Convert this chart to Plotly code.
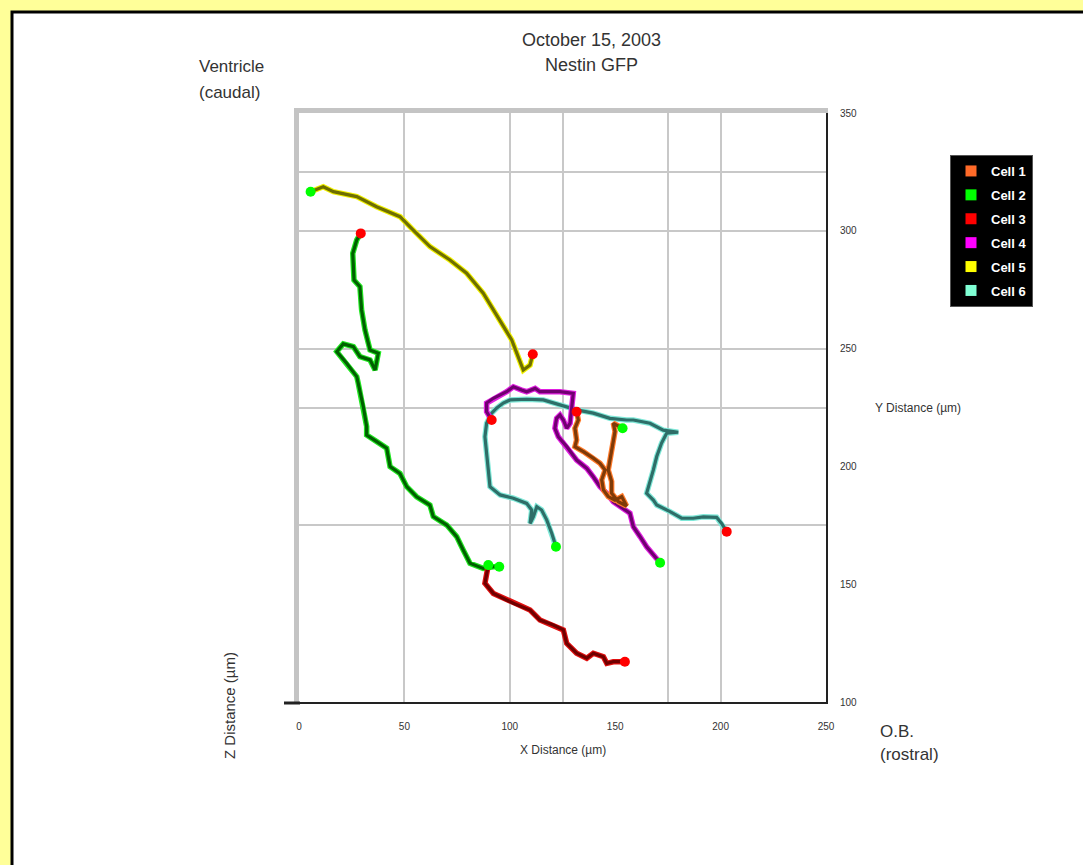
import plotly.graph_objects as go

# ---------------- data (µm) ----------------
cell_names = ["Cell 1", "Cell 2", "Cell 3", "Cell 4", "Cell 5", "Cell 6"]

cell1_x = [153.5, 149.1, 149.9, 149.1, 148.3, 147.5, 146.7, 148.3, 148.3, 151.5, 155.4, 153.1, 149.9,
           146.7, 144.4, 143.6, 145.2, 142.8, 139.6, 134.9, 130.9, 131.7, 130.9, 132.5, 131.7]
cell1_y = [216.2, 218.3, 214.8, 210.5, 206.3, 202.7, 198.5, 193.6, 188.6, 185.0, 183.2, 187.2, 185.7,
           187.2, 190.0, 194.3, 198.5, 201.3, 203.5, 206.3, 208.4, 211.2, 216.2, 219.7, 223.2]

cell2_x = [95.0, 92.2, 87.4, 81.1, 77.9, 74.8, 70.1, 63.7, 62.1, 55.8, 51.1, 47.9, 43.2, 41.6, 36.9,
           32.1, 32.1, 30.5, 28.1, 27.4, 22.6, 17.9, 21.0, 25.8, 28.9, 33.7, 36.1, 37.6, 33.7, 31.3,
           29.7, 28.9, 26.1, 25.5, 27.4, 29.3]
cell2_y = [157.4, 157.4, 156.7, 158.9, 164.5, 170.2, 175.1, 178.7, 183.6, 187.1, 191.4, 197.0, 199.9,
           207.7, 210.5, 213.3, 216.9, 225.4, 235.3, 238.1, 243.8, 248.7, 252.0, 250.8, 246.6, 245.2,
           240.9, 248.0, 249.4, 257.9, 266.4, 276.3, 279.1, 290.4, 296.1, 298.9]

cell3_x = [89.8, 88.2, 92.2, 101.7, 109.6, 114.3, 120.6, 125.4, 127.0, 131.7, 136.5, 139.6, 144.4,
           146.0, 149.1, 154.6]
cell3_y = [158.1, 150.4, 146.1, 141.9, 139.0, 134.8, 132.7, 130.6, 124.9, 120.7, 118.6, 120.7, 119.2,
           116.4, 117.1, 117.1]

cell4_x = [171.3, 168.1, 164.9, 161.8, 158.6, 157.0, 152.3, 149.1, 146.0, 142.8, 139.6, 136.5, 131.7,
           127.0, 123.0, 121.4, 122.2, 123.8, 125.4, 127.0, 128.6, 129.4, 130.1, 123.8, 114.3, 112.0,
           108.0, 105.6, 101.7, 98.5, 95.4, 92.2, 89.0, 89.0, 91.4]
cell4_y = [159.1, 162.4, 165.9, 170.2, 174.4, 180.1, 182.9, 185.0, 188.6, 191.4, 195.6, 199.2, 202.7,
           208.4, 212.6, 216.2, 220.4, 221.8, 219.7, 216.2, 218.3, 225.3, 231.0, 231.7, 231.7, 233.1,
           231.7, 232.4, 233.8, 231.7, 230.3, 228.9, 226.9, 223.2, 219.7]

cell5_x = [5.5, 11.5, 16.3, 27.4, 36.8, 47.9, 54.2, 62.1, 71.6, 79.5, 87.4, 95.4, 100.9, 106.4, 109.6, 110.9]
cell5_y = [316.6, 318.7, 316.6, 314.5, 310.2, 306.0, 300.3, 293.3, 287.6, 282.0, 273.5, 262.1, 253.7,
           240.9, 243.0, 247.6]

cell6_x = [121.9, 119.9, 117.5, 115.1, 112.8, 111.2, 109.6, 110.4, 108.0, 101.7, 95.4, 90.6, 89.8, 89.0,
           88.2, 89.0, 91.4, 93.7, 96.9, 100.1, 108.0, 115.9, 123.8, 131.7, 139.6, 147.5, 155.4, 158.6,
           166.5, 172.8, 179.9, 174.4, 172.0, 169.7, 168.1, 165.7, 164.9, 168.1, 169.7, 176.0, 181.5,
           187.0, 191.8, 198.1, 200.5, 202.9]
cell6_y = [165.9, 171.6, 177.3, 181.5, 182.9, 178.7, 175.8, 181.5, 184.3, 186.5, 187.9, 191.4, 198.5,
           205.6, 212.6, 218.3, 222.6, 224.7, 226.9, 228.2, 228.5, 228.2, 226.1, 224.0, 222.6, 220.4,
           219.7, 219.7, 218.3, 215.4, 214.5, 214.1, 209.9, 204.2, 198.5, 191.4, 188.6, 185.7, 183.6,
           180.8, 178.0, 178.0, 178.6, 178.4, 175.8, 172.3]

x_tick_vals = [0, 50, 100, 150, 200, 250]
y_tick_vals = [100, 150, 200, 250, 300, 350]
x_grid_vals = [50, 100, 125, 175, 200]
y_grid_vals = [175, 225, 250, 300, 325]

legend_colors = ["#FF6A28", "#00FF00", "#FF0000", "#FF00FF", "#FFFF00", "#80FFD4"]
light_colors = ["#FF7A2A", "#22E622", "#E01010", "#E020E0", "#F0F000", "#7FE8D8"]
dark_colors = ["#7E3A08", "#006000", "#700000", "#700070", "#6E6E00", "#2E6E68"]

tracks = {
    0: (cell1_x, cell1_y), 1: (cell2_x, cell2_y), 2: (cell3_x, cell3_y),
    3: (cell4_x, cell4_y), 4: (cell5_x, cell5_y), 5: (cell6_x, cell6_y),
}

# ---------------- layout helpers ----------------
W, H = 1083, 865
L, R, T, B = 299, 257, 113, 163
PW, PH = W - L - R, H - T - B


def px(xp):
    return (xp - L) / PW


def py(yp):
    return 1 - (yp - T) / PH


FONT = "Liberation Sans, Arial, sans-serif"
TXT = "#333333"

fig = go.Figure()

draw_order = [5, 3, 0, 1, 2, 4]
for i in draw_order:
    xs, ys = tracks[i]
    fig.add_trace(go.Scatter(x=xs, y=ys, mode="lines", showlegend=False, hoverinfo="skip",
                             line=dict(color=light_colors[i], width=5.5)))
    fig.add_trace(go.Scatter(x=xs, y=ys, mode="lines", showlegend=False, hoverinfo="skip",
                             line=dict(color=dark_colors[i], width=3.2)))

# start (green) and end (red) markers
for i in draw_order:
    xs, ys = tracks[i]
    fig.add_trace(go.Scatter(x=[xs[0]], y=[ys[0]], mode="markers", showlegend=False, hoverinfo="skip",
                             marker=dict(color="#00FF00", size=10, symbol="circle")))
    fig.add_trace(go.Scatter(x=[xs[-1]], y=[ys[-1]], mode="markers", showlegend=False, hoverinfo="skip",
                             marker=dict(color="#FF0000", size=10, symbol="circle")))

# legend entries
for i, name in enumerate(cell_names):
    fig.add_trace(go.Scatter(x=[None], y=[None], mode="markers", name=name, legendgroup=name,
                             marker=dict(color=legend_colors[i], size=11, symbol="square")))

# dummy traces to activate overlay axes
fig.add_trace(go.Scatter(x=[None], y=[None], xaxis="x2", yaxis="y", showlegend=False, hoverinfo="skip"))
fig.add_trace(go.Scatter(x=[None], y=[None], xaxis="x3", yaxis="y", showlegend=False, hoverinfo="skip"))
fig.add_trace(go.Scatter(x=[None], y=[None], xaxis="x", yaxis="y2", showlegend=False, hoverinfo="skip"))

fig.update_layout(
    width=W, height=H, autosize=False,
    margin=dict(l=L, r=R, t=T, b=B, pad=0),
    paper_bgcolor="#FFFF99",
    plot_bgcolor="white",
    font=dict(family=FONT, color=TXT),
    xaxis=dict(range=[0, 250], tickvals=x_grid_vals, showticklabels=False, ticks="",
               showgrid=True, gridcolor="#C8C8C8", gridwidth=2, zeroline=False,
               showline=True, linecolor="#222222", linewidth=2, side="bottom", fixedrange=True),
    yaxis=dict(range=[100, 350], tickvals=y_grid_vals, showticklabels=False, ticks="",
               showgrid=True, gridcolor="#C8C8C8", gridwidth=2, zeroline=False,
               showline=True, linecolor="#C4C4C4", linewidth=5, side="left", fixedrange=True),
    xaxis2=dict(range=[0, 250], overlaying="x", anchor="y", side="top", showgrid=False,
                zeroline=False, showticklabels=False, ticks="", showline=True,
                linecolor="#C4C4C4", linewidth=5, fixedrange=True),
    xaxis3=dict(range=[0, 250], overlaying="x", anchor="y", side="bottom", showgrid=False,
                zeroline=False, showline=False, ticks="", tickvals=x_tick_vals,
                ticktext=[str(v) for v in x_tick_vals], ticklabelstandoff=17,
                tickfont=dict(size=10, color=TXT, family=FONT), fixedrange=True),
    yaxis2=dict(range=[100, 350], overlaying="y", anchor="x", side="right", showgrid=False,
                zeroline=False, showline=True, linecolor="#222222", linewidth=2, ticks="",
                tickvals=y_tick_vals, ticktext=[str(v) for v in y_tick_vals], ticklabelstandoff=10,
                tickfont=dict(size=10, color=TXT, family=FONT), fixedrange=True),
    legend=dict(x=px(950), y=py(155), xanchor="left", yanchor="top", bgcolor="black",
                bordercolor="#555555", borderwidth=1, tracegroupgap=4,
                font=dict(color="white", size=13, family="Liberation Sans, Arial", weight="bold"),
                itemclick=False, itemdoubleclick=False),
    showlegend=True,
)

# white page panel with black rule (decorative frame)
fig.add_shape(type="rect", xref="paper", yref="paper", layer="below",
              x0=px(12), x1=px(1100), y0=py(880), y1=py(12),
              fillcolor="white", line=dict(color="black", width=3))
# small extension of the floor edge to the left of the frame
fig.add_shape(type="line", xref="paper", yref="paper", layer="above",
              x0=px(284), x1=px(300), y0=py(703), y1=py(703),
              line=dict(color="#222222", width=3))

annots = [
    ("October 15, 2003", 591, 40, "center", 18, 0),
    ("Nestin GFP", 591, 65, "center", 18, 0),
    ("Ventricle", 197, 67, "left", 17, 0),
    ("(caudal)", 197, 93, "left", 17, 0),
    ("O.B.", 878, 731, "left", 17, 0),
    ("(rostral)", 878, 754, "left", 17, 0),
    ("X Distance (µm)", 563, 750, "center", 12, 0),
    ("Y Distance (µm)", 873, 408, "left", 12, 0),
    ("Z Distance (µm)", 229, 706, "center", 15, -90),
]
for text, xx, yy, anchor, size, ang in annots:
    fig.add_annotation(text=text, xref="paper", yref="paper", x=px(xx), y=py(yy),
                       xanchor=anchor, yanchor="middle", showarrow=False, textangle=ang,
                       font=dict(size=size, color=TXT, family=FONT))

fig.write_html("out.html", config={"displayModeBar": False},
               post_script="document.body.style.margin='0';document.body.style.background='#FFFF99';")
